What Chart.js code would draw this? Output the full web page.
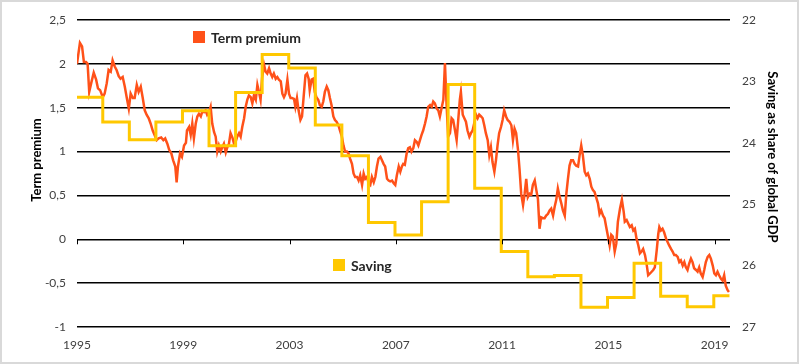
<!DOCTYPE html>
<html>
<head>
<meta charset="utf-8">
<script src="https://cdn.jsdelivr.net/npm/chart.js@4.4.1/dist/chart.umd.min.js"></script>
<style>
  html, body { margin: 0; padding: 0; background: #fff; }
  #wrap { width: 799px; height: 364px; position: relative; }
</style>
</head>
<body>
<div id="wrap"><canvas id="c" width="799" height="364"></canvas></div>
<script>
// ---------- DATA ----------
const baseYear = 1995;
// Term premium: time (years since Jan 1995) and value
const tpYearsSince1995 = [
0.00,0.11,0.19,0.26,0.34,0.40,0.46,0.55,0.63,0.72,0.79,0.87,0.97,1.04,1.12,1.19,1.27,1.34,1.42,1.49,
1.57,1.64,1.72,1.80,1.87,1.95,2.02,2.10,2.17,2.25,2.32,2.40,2.47,2.55,2.62,2.70,2.77,2.85,2.92,3.00,
3.07,3.17,3.25,3.32,3.40,3.47,3.55,3.62,3.70,3.75,3.80,3.88,3.95,4.03,4.10,4.14,4.22,4.28,4.34,4.40,
4.47,4.53,4.59,4.66,4.72,4.78,4.84,4.90,4.97,5.03,5.09,5.16,5.22,5.28,5.34,5.41,5.47,5.53,5.60,5.66,
5.72,5.78,5.85,5.91,5.97,6.03,6.10,6.16,6.22,6.29,6.35,6.41,6.47,6.54,6.60,6.66,6.73,6.79,6.85,6.91,
6.97,7.04,7.10,7.16,7.23,7.29,7.35,7.41,7.48,7.54,7.60,7.67,7.73,7.79,7.85,7.92,7.98,8.04,8.09,8.17,
8.22,8.28,8.34,8.41,8.47,8.53,8.60,8.66,8.72,8.76,8.83,8.89,8.95,9.01,9.08,9.14,9.21,9.27,9.33,9.40,
9.46,9.52,9.58,9.65,9.71,9.77,9.84,9.90,9.97,10.03,10.09,10.16,10.22,10.28,10.35,10.41,10.47,10.54,10.60,10.66,
10.73,10.79,10.85,10.91,10.98,11.04,11.10,11.17,11.23,11.29,11.35,11.42,11.48,11.54,11.60,11.67,11.73,11.79,11.86,11.92,
11.98,12.04,12.11,12.17,12.23,12.28,12.34,12.41,12.47,12.53,12.59,12.66,12.72,12.79,12.85,12.91,12.97,13.03,13.10,13.16,
13.22,13.29,13.35,13.41,13.47,13.54,13.60,13.66,13.72,13.79,13.85,13.91,13.97,14.04,14.10,14.16,14.23,14.29,14.35,14.41,
14.45,14.52,14.58,14.64,14.70,14.77,14.83,14.89,14.95,15.02,15.08,15.14,15.21,15.27,15.33,15.39,15.46,15.52,15.58,15.64,
15.71,15.77,15.83,15.89,15.96,16.02,16.08,16.15,16.21,16.28,16.35,16.41,16.47,16.53,16.60,16.66,16.72,16.79,16.85,16.91,
16.97,17.04,17.10,17.16,17.23,17.29,17.35,17.41,17.47,17.54,17.60,17.66,17.73,17.79,17.85,17.92,17.98,18.04,18.10,18.17,
18.23,18.29,18.36,18.42,18.48,18.54,18.60,18.67,18.73,18.79,18.86,18.92,18.98,19.04,19.11,19.17,19.23,19.30,19.36,19.42,
19.48,19.54,19.61,19.67,19.73,19.80,19.86,19.92,19.99,20.05,20.11,20.17,20.24,20.30,20.36,20.44,20.51,20.58,20.62,20.69,
20.75,20.81,20.88,20.94,21.00,21.06,21.13,21.19,21.25,21.31,21.38,21.44,21.50,21.57,21.63,21.69,21.75,21.82,21.88,21.92,
21.98,22.04,22.10,22.17,22.23,22.29,22.36,22.42,22.48,22.54,22.61,22.67,22.73,22.80,22.86,22.92,22.98,23.04,23.11,23.17,
23.23,23.30,23.36,23.42,23.48,23.55,23.61,23.67,23.74,23.80,23.86,23.93,23.99,24.05,24.11,24.17,24.24,24.30,24.36,24.42,
24.49,24.54
];
const tpValues = [
2.00,2.24,2.20,2.02,2.02,2.00,1.68,1.80,1.90,1.82,1.72,1.70,1.62,1.66,1.78,1.93,1.91,2.04,1.97,1.93,
1.86,1.83,1.85,1.74,1.62,1.49,1.66,1.61,1.61,1.76,1.68,1.74,1.62,1.47,1.42,1.38,1.32,1.24,1.19,1.13,
1.15,1.16,1.13,1.15,1.09,1.02,0.98,0.90,0.83,0.65,0.83,0.98,0.94,1.07,1.10,1.24,1.28,1.19,1.32,1.15,
1.32,1.40,1.43,1.40,1.46,1.45,1.47,1.42,1.45,1.51,1.32,1.22,1.17,1.00,1.07,1.00,1.05,1.09,0.99,1.05,
1.09,1.21,1.16,1.09,1.11,1.17,1.21,1.17,1.28,1.38,1.51,1.59,1.64,1.62,1.55,1.64,1.59,1.76,1.68,1.59,
1.85,1.99,1.91,1.89,1.95,1.89,1.85,1.89,1.83,1.85,1.82,1.80,1.66,1.62,1.66,1.82,1.66,1.61,1.61,1.60,
1.51,1.61,1.47,1.36,1.40,1.62,1.87,1.89,1.83,1.70,1.82,1.83,1.68,1.62,1.59,1.53,1.51,1.57,1.68,1.74,
1.70,1.61,1.53,1.40,1.36,1.34,1.30,1.24,1.17,1.07,1.00,1.00,0.98,0.92,0.86,0.75,0.71,0.71,0.67,0.73,
0.62,0.75,0.69,0.71,0.64,0.62,0.71,0.65,0.71,0.83,0.92,0.94,0.90,0.86,0.83,0.69,0.67,0.66,0.67,0.64,
0.62,0.73,0.83,0.77,0.83,0.86,0.85,0.98,1.04,1.05,1.00,1.04,1.13,1.11,1.07,1.13,1.19,1.24,1.32,1.40,
1.51,1.53,1.51,1.57,1.55,1.49,1.47,1.40,1.49,1.59,2.01,1.55,1.17,1.21,1.38,1.36,1.24,1.13,1.36,1.59,
1.68,1.42,1.38,1.34,1.24,1.17,1.21,1.24,1.32,1.42,1.38,1.42,1.40,1.38,1.30,1.21,1.13,0.96,1.05,0.88,
0.77,0.90,1.07,1.21,1.28,1.36,1.47,1.40,1.36,1.34,1.30,1.13,1.26,1.21,1.02,0.79,0.52,0.39,0.52,0.69,
0.48,0.52,0.51,0.62,0.67,0.56,0.46,0.12,0.25,0.24,0.24,0.27,0.29,0.33,0.35,0.27,0.37,0.45,0.58,0.48,
0.41,0.33,0.27,0.52,0.69,0.84,0.90,0.90,0.86,0.84,0.83,0.96,1.07,0.96,0.77,0.73,0.75,0.69,0.60,0.56,
0.54,0.48,0.41,0.29,0.33,0.27,0.24,0.14,0.03,-0.07,0.05,0.03,-0.14,-0.05,0.20,0.35,0.45,0.31,0.20,0.22,
0.18,0.14,0.16,0.10,0.12,0.01,-0.07,-0.16,-0.14,-0.11,-0.18,-0.28,-0.41,-0.39,-0.37,-0.35,-0.32,-0.13,0.06,0.14,
0.10,0.12,0.08,0.01,-0.03,-0.07,-0.11,-0.14,-0.18,-0.18,-0.20,-0.26,-0.24,-0.30,-0.26,-0.32,-0.35,-0.28,-0.22,-0.26,
-0.33,-0.35,-0.37,-0.32,-0.39,-0.43,-0.35,-0.26,-0.20,-0.18,-0.22,-0.30,-0.39,-0.41,-0.37,-0.41,-0.45,-0.47,-0.41,-0.53,
-0.58,-0.60
];
// Saving as share of global GDP (annual steps, right axis, reversed)
const savingYearsSince1995 = [0,0.97,1.97,2.97,3.97,4.97,5.97,6.97,7.97,8.97,9.97,10.97,11.97,12.97,13.97,14.97,15.97,16.97,17.97,18.97,19.97,20.97,21.97,22.97,23.97,24.56];
const savingValues = [23.26,23.66,23.95,23.66,23.48,24.05,23.18,22.56,22.78,23.71,24.21,25.30,25.50,24.96,23.05,24.74,25.77,26.18,26.16,26.68,26.52,25.96,26.50,26.67,26.49,26.49];
// Axis ticks
const xTickYears = [1995,1999,2003,2007,2011,2015,2019];
const leftTicks = [-1,-0.5,0,0.5,1,1.5,2,2.5];
const rightTicks = [22,23,24,25,26,27];
const seriesNames = ['Term premium','Saving'];
const axisTitles = {left:'Term premium', right:'Saving as share of global GDP'};

// ---------- STYLE ----------
const ORANGE = '#FF5119';
const YELLOW = '#FFC800';
const FONT = 'Lato, "Liberation Sans", sans-serif';

const framePlugin = {
  id: 'frame',
  beforeDraw(chart) {
    const ctx = chart.ctx;
    ctx.save();
    ctx.fillStyle = '#fff';
    ctx.fillRect(0, 0, chart.width, chart.height);
    ctx.restore();
  },
  afterDraw(chart) {
    const ctx = chart.ctx;
    ctx.save();
    ctx.strokeStyle = '#D9D9D9';
    ctx.lineWidth = 2;
    ctx.strokeRect(1, 1, chart.width - 2, chart.height - 2);
    ctx.restore();
  }
};

const zeroTicksPlugin = {
  id: 'zeroTicks',
  afterDatasetsDraw(chart) {
    const x = chart.scales.x, y = chart.scales.y;
    const y0 = y.getPixelForValue(0);
    const ctx = chart.ctx;
    ctx.save();
    ctx.strokeStyle = '#000';
    ctx.lineWidth = 1;
    xTickYears.forEach(v => {
      const px = Math.round(x.getPixelForValue(v)) + 0.5;
      ctx.beginPath();
      ctx.moveTo(px, y0);
      ctx.lineTo(px, y0 + 5);
      ctx.stroke();
    });
    ctx.restore();
  }
};

// Axis titles placed like the original (slightly above the axis centre)
const axisTitlePlugin = {
  id: 'axisTitles',
  afterDraw(chart) {
    const ctx = chart.ctx;
    ctx.save();
    ctx.font = 'bold 13px ' + FONT;
    ctx.fillStyle = '#000';
    ctx.textAlign = 'center';
    ctx.textBaseline = 'middle';
    ctx.save();
    ctx.translate(37, 160);
    ctx.rotate(-Math.PI / 2);
    ctx.fillText(axisTitles.left, 0, 0);
    ctx.restore();
    ctx.save();
    ctx.translate(772, 157);
    ctx.rotate(Math.PI / 2);
    ctx.fillText(axisTitles.right, 0, 0);
    ctx.restore();
    ctx.restore();
  }
};

const inPlotLegend = {
  id: 'inPlotLegend',
  afterDraw(chart) {
    const ctx = chart.ctx;
    ctx.save();
    ctx.font = 'bold 14px ' + FONT;
    ctx.textBaseline = 'middle';
    ctx.textAlign = 'left';
    const items = [
      {name: seriesNames[0], color: ORANGE, x: 193, y: 37},
      {name: seriesNames[1], color: YELLOW, x: 333, y: 265}
    ];
    items.forEach(it => {
      ctx.fillStyle = it.color;
      ctx.fillRect(it.x, it.y - 6, 12, 12);
      ctx.fillStyle = '#262626';
      ctx.fillText(it.name, it.x + 18, it.y + 1);
    });
    ctx.restore();
  }
};

const fmt = v => String(v).replace('.', ',');

new Chart(document.getElementById('c'), {
  type: 'line',
  data: {
    datasets: [
      {
        label: seriesNames[1],
        data: savingYearsSince1995.map((t, i) => ({x: baseYear + t, y: savingValues[i]})),
        yAxisID: 'y2',
        borderColor: YELLOW,
        backgroundColor: YELLOW,
        borderWidth: 3,
        stepped: true,
        pointRadius: 0,
        fill: false
      },
      {
        label: seriesNames[0],
        data: tpYearsSince1995.map((t, i) => ({x: baseYear + t, y: tpValues[i]})),
        yAxisID: 'y',
        borderColor: ORANGE,
        backgroundColor: ORANGE,
        borderWidth: 2.5,
        tension: 0,
        pointRadius: 0,
        fill: false
      }
    ]
  },
  options: {
    responsive: false,
    animation: false,
    devicePixelRatio: 1,
    layout: { padding: { top: 20, left: 0, right: 0, bottom: 0 } },
    plugins: { legend: { display: false }, tooltip: { enabled: false } },
    scales: {
      x: {
        type: 'linear',
        position: 'bottom',
        min: 1995,
        max: 2019.58,
        afterBuildTicks: s => { s.ticks = xTickYears.map(v => ({value: v})); },
        afterFit: s => { s.height = 37; },
        grid: { display: false, drawTicks: false },
        border: { display: false },
        ticks: {
          autoSkip: false,
          maxRotation: 0,
          padding: 11,
          color: '#404040',
          font: { family: FONT, size: 12 },
          callback: v => String(v)
        }
      },
      y: {
        position: 'left',
        min: -1,
        max: 2.5,
        afterBuildTicks: s => { s.ticks = leftTicks.map(v => ({value: v})); },
        afterFit: s => { s.width = 77; },
        grid: { color: '#000', lineWidth: 1.5, drawTicks: false },
        border: { display: false },
        ticks: {
          padding: 11,
          color: '#404040',
          font: { family: FONT, size: 12 },
          callback: v => fmt(v)
        }
      },
      y2: {
        position: 'right',
        reverse: true,
        min: 22,
        max: 27,
        afterBuildTicks: s => { s.ticks = rightTicks.map(v => ({value: v})); },
        afterFit: s => { s.width = 69; },
        grid: { display: false, drawTicks: false },
        border: { display: false },
        ticks: {
          padding: 12,
          color: '#404040',
          font: { family: FONT, size: 12 },
          callback: v => String(v)
        }
      }
    }
  },
  plugins: [framePlugin, zeroTicksPlugin, axisTitlePlugin, inPlotLegend]
});
</script>
</body>
</html>
